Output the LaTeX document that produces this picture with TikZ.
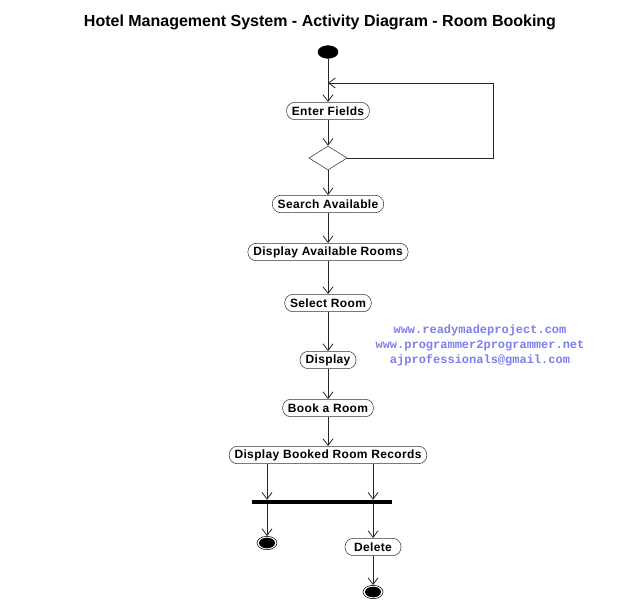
\documentclass[tikz,border=0pt]{standalone}
\usepackage{xcolor}
\usepackage{fontspec}
\usepackage{tikz}
\usetikzlibrary{shapes, arrows.meta, calc, positioning}
\newfontfamily\actfont[LetterSpace=3]{Liberation Sans}
\newfontfamily\titlefont{Liberation Sans}
\newfontfamily\wmfont{Liberation Mono}
\definecolor{wmblue}{RGB}{125,125,235}

\tikzset{
  activity/.style={draw=black!80, rectangle, rounded corners=6.2pt, minimum height=13pt, minimum width=42pt, inner xsep=4pt, inner ysep=0pt, font=\actfont\fontsize{9}{10}\bfseries},
  startstate/.style={ellipse, fill=black, draw=black, minimum width=15pt, minimum height=9.5pt, inner sep=0pt},
  endstate/.style={ellipse, draw=black, minimum width=15pt, minimum height=10pt, inner sep=0pt, path picture={\fill[black] (path picture bounding box.center) ellipse (6pt and 4pt);}},
  decision/.style={diamond, draw=black!80, minimum width=28.5pt, minimum height=18pt, inner sep=0pt},
  forkbar/.style={rectangle, fill=black, minimum width=105pt, minimum height=3pt, inner sep=0pt},
  flow/.style={draw=black!85, line width=0.6pt, -{Straight Barb[length=5pt, width=7.5pt]}}
}

\begin{document}
\begin{tikzpicture}[x=0.75pt, y=-0.75pt]
\useasboundingbox (0,0) rectangle (641,615);
\pgfmathsetmacro{\midx}{328}
\pgfmathsetmacro{\leftx}{267}
\pgfmathsetmacro{\rightx}{373}

\node[draw=none, text=black, font=\titlefont\fontsize{12}{14}\bfseries] (title) at (320,22) {Hotel Management System - Activity Diagram - Room Booking};

\node[startstate] (start) at (\midx,52) {};
\node[activity] (enter) at (\midx,111) {Enter Fields};
\node[decision] (check) at (\midx,158) {};
\node[activity] (search) at (\midx,204) {Search Available};
\node[activity] (showrooms) at (\midx,252) {Display Available Rooms};
\node[activity] (select) at (\midx,303) {Select Room};
\node[activity] (display) at (\midx,360) {Display};
\node[activity] (book) at (\midx,408) {Book a Room};
\node[activity] (records) at (\midx,455) {Display Booked Room Records};
\node[forkbar] (bar) at (322,502) {};
\node[endstate] (endleft) at (\leftx,543) {};
\node[activity] (delete) at (\rightx,547) {Delete};
\node[endstate] (endright) at (\rightx,592) {};

\coordinate (loopin) at (\midx,83);
\coordinate (loopright) at (493,158);
\coordinate (looptop) at (493,83);

\draw[flow] (start) -- (enter);
\draw[flow] (enter) -- (check);
\draw[flow] (check.east) -- (loopright) -- (looptop) -- (loopin);
\draw[flow] (check) -- (search);
\draw[flow] (search) -- (showrooms);
\draw[flow] (showrooms) -- (select);
\draw[flow] (select) -- (display);
\draw[flow] (display) -- (book);
\draw[flow] (book) -- (records);
\draw[flow] (records.south -| endleft) -- (bar.north -| endleft);
\draw[flow] (records.south -| delete) -- (bar.north -| delete);
\draw[flow] (bar.south -| endleft) -- (endleft);
\draw[flow] (bar.south -| delete) -- (delete);
\draw[flow] (delete) -- (endright);

\node[text=wmblue, font=\wmfont\fontsize{9}{11.25}\bfseries, align=center] (site) at (480,345) {www.readymadeproject.com\\www.programmer2programmer.net\\ajprofessionals@gmail.com};
\end{tikzpicture}
\end{document}
